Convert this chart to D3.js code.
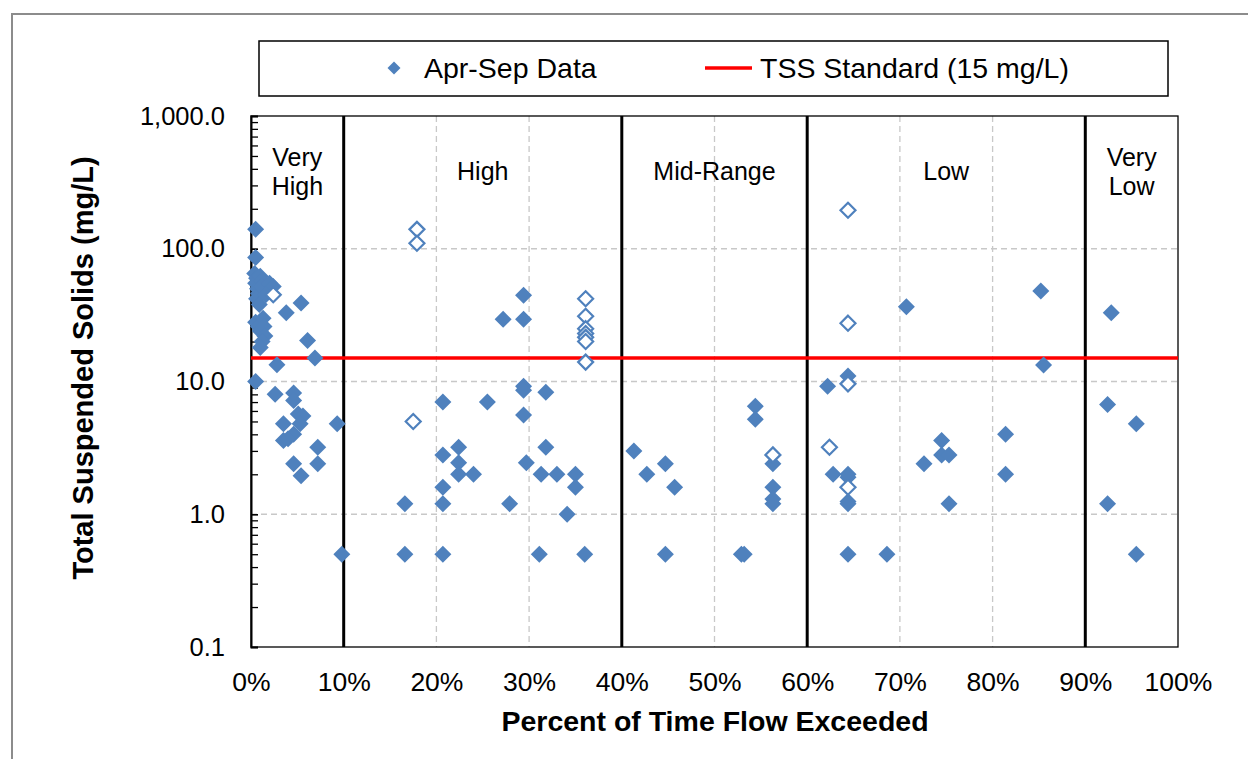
<!DOCTYPE html>
<html>
<head>
<meta charset="utf-8">
<script src="https://cdn.jsdelivr.net/npm/d3@7"></script>
<style>
  html, body { margin: 0; padding: 0; background: #fff; }
  svg { display: block; font-family: "Liberation Sans", Arial, sans-serif; }
</style>
</head>
<body>
<svg id="chart" width="1248" height="759"></svg>
<script>
// ---- Data ----
// Filled diamonds: "Apr-Sep Data"
const aprSepPct = [
  0.5, 0.5, 0.4, 0.6, 0.5, 0.7, 0.8, 0.6, 1.0, 1.2, 1.1, 0.9, 0.5, 0.8, 1.0, 1.3, 1.4, 1.5, 1.2, 1.0,
  2.0, 2.4, 1.6, 2.8, 3.8, 5.4, 6.1, 6.9, 0.5, 2.6, 4.6, 4.6, 5.1, 5.6, 3.5, 5.3, 4.6, 3.5, 4.0, 7.2,
  7.2, 4.6, 5.4, 9.3, 9.8,
  16.6, 16.6, 20.7, 20.7, 20.7, 20.7, 20.7, 22.4, 22.4, 22.4, 24.0, 25.5, 27.2, 27.9, 29.4, 29.4,
  29.4, 29.4, 29.4, 29.7, 31.1, 31.3, 31.8, 31.8, 33.0, 34.1, 35.0, 35.0, 36.0,
  41.3, 42.7, 44.7, 45.7, 44.7, 52.9, 53.2, 54.4, 54.4, 56.3, 56.3, 56.3, 56.3,
  62.2, 62.8, 64.4, 64.4, 64.4, 64.4, 64.4, 64.4, 68.6, 70.7, 72.6, 74.5, 74.5, 75.3, 75.3, 81.4,
  81.4, 85.2, 85.5,
  92.8, 92.4, 95.5, 92.4, 95.5
];
const aprSepTss = [
  140, 86, 65, 60, 55, 50, 46, 42, 62, 57, 52, 38, 28, 26, 24, 30, 26, 22, 20, 18,
  55, 52, 45, 13.4, 33, 39, 20.4, 15, 10, 8.0, 8.2, 7.2, 5.7, 5.5, 4.8, 4.8, 4.0, 3.6, 3.7, 3.2,
  2.4, 2.4, 1.95, 4.8, 0.5,
  1.2, 0.5, 7.0, 2.8, 1.6, 1.2, 0.5, 3.2, 2.44, 2.0, 2.0, 7.0, 29.4, 1.2, 44.7, 29.4,
  9.2, 8.6, 5.6, 2.44, 0.5, 2.0, 8.3, 3.2, 2.0, 1.0, 2.0, 1.6, 0.5,
  3.0, 2.0, 2.4, 1.6, 0.5, 0.5, 0.5, 6.5, 5.2, 2.4, 1.6, 1.3, 1.2,
  9.2, 2.0, 11, 2.0, 1.9, 1.25, 1.2, 0.5, 0.5, 36.5, 2.4, 3.6, 2.8, 2.8, 1.2, 4.0,
  2.0, 48, 13.3,
  33, 6.7, 4.8, 1.2, 0.5
];
// Hollow diamonds (not in legend)
const hollowPct = [2.4, 17.9, 17.9, 17.5, 36.1, 36.1, 36.1, 36.1, 36.1, 36.1, 36.1, 56.3, 64.4, 64.4, 64.4, 62.4, 64.4];
const hollowTss = [45, 140, 110, 5.0, 42, 31, 25, 23, 21.5, 20, 14, 2.8, 195, 27.5, 9.6, 3.2, 1.6];

const tssStandard = 15;
const yTickValues = [0.1, 1, 10, 100, 1000];
const xTickValues = [0, 10, 20, 30, 40, 50, 60, 70, 80, 90, 100];
const zoneBreaks = [10, 40, 60, 90];
const zoneLabels = [
  { name: ["Very", "High"], at: 5 },
  { name: ["High"], at: 25 },
  { name: ["Mid-Range"], at: 50 },
  { name: ["Low"], at: 75 },
  { name: ["Very", "Low"], at: 95 }
];
const legendLabels = ["Apr-Sep Data", "TSS Standard (15 mg/L)"];
const xTitle = "Percent of Time Flow Exceeded";
const yTitle = "Total Suspended Solids (mg/L)";

// ---- Layout ----
const svg = d3.select("#chart");
const L = 251, R = 1178, T = 116, B = 647;
const blue = "#4f81bd";

const x = d3.scaleLinear().domain([0, 100]).range([L, R]);
const y = d3.scaleLog().domain([0.1, 1000]).range([B, T]);

// outer chart border
svg.append("rect").attr("x", 12).attr("y", 14).attr("width", 1300).attr("height", 800)
  .attr("fill", "#fff").attr("stroke", "#8c8c8c").attr("stroke-width", 2);

// gridlines horizontal
svg.append("g").selectAll("line").data([1, 10, 100]).join("line")
  .attr("x1", L).attr("x2", R).attr("y1", d => y(d)).attr("y2", d => y(d))
  .attr("stroke", "#c8c8c8").attr("stroke-width", 1.3).attr("stroke-dasharray", "6,4");
// gridlines vertical
svg.append("g").selectAll("line").data(xTickValues.filter(d => d > 0 && d < 100 && !zoneBreaks.includes(d))).join("line")
  .attr("x1", d => x(d)).attr("x2", d => x(d)).attr("y1", T).attr("y2", B)
  .attr("stroke", "#c8c8c8").attr("stroke-width", 1.3).attr("stroke-dasharray", "6,4");

// plot border
svg.append("rect").attr("x", L).attr("y", T).attr("width", R - L).attr("height", B - T)
  .attr("fill", "none").attr("stroke", "#000").attr("stroke-width", 1.3);

// zone lines
svg.append("g").selectAll("line").data(zoneBreaks).join("line")
  .attr("x1", d => x(d)).attr("x2", d => x(d)).attr("y1", T).attr("y2", B)
  .attr("stroke", "#000").attr("stroke-width", 3);

// minor ticks (inside)
const minor = [];
[0.1, 1, 10, 100].forEach(dec => { for (let k = 1; k <= 10; k++) minor.push(dec * k); });
const minorAxis = svg.append("g").attr("transform", `translate(${L},0)`)
  .call(d3.axisRight(y).tickValues(minor).tickSize(7).tickFormat(""));
minorAxis.select(".domain").attr("stroke", "#000").attr("stroke-width", 2);
minorAxis.selectAll(".tick line").attr("stroke", "#000").attr("stroke-width", 1.3);

// y axis labels
const fmt = d3.format(",.1f");
const yAxis = svg.append("g").attr("transform", `translate(${L},0)`)
  .call(d3.axisLeft(y).tickValues(yTickValues).tickSize(0).tickPadding(26).tickFormat(d => fmt(d)));
yAxis.select(".domain").remove();
yAxis.selectAll("text").attr("font-size", 25.5).attr("fill", "#000")
  .attr("font-family", "Liberation Sans, Arial, sans-serif");

// x axis labels
const xAxis = svg.append("g").attr("transform", `translate(0,${B})`)
  .call(d3.axisBottom(x).tickValues(xTickValues).tickSize(0).tickPadding(25).tickFormat(d => d + "%"));
xAxis.select(".domain").remove();
xAxis.selectAll("text").attr("font-size", 26.5).attr("fill", "#000")
  .attr("font-family", "Liberation Sans, Arial, sans-serif");

// zone labels
zoneLabels.forEach(z => {
  const t = svg.append("text").attr("x", x(z.at)).attr("text-anchor", "middle")
    .attr("font-size", 25).attr("fill", "#000");
  const y0 = z.name.length === 2 ? 166 : 180;
  z.name.forEach((s, i) => t.append("tspan").attr("x", x(z.at)).attr("y", y0 + i * 29).text(s));
});

// TSS standard line
svg.append("line").attr("x1", L).attr("x2", R).attr("y1", y(tssStandard)).attr("y2", y(tssStandard))
  .attr("stroke", "#ff0000").attr("stroke-width", 3.5);

// diamonds
const diamond = (s) => `M0,${-s}L${s},0L0,${s}L${-s},0Z`;
const filled = aprSepPct.map((p, i) => ({ p, v: aprSepTss[i] }));
const hollow = hollowPct.map((p, i) => ({ p, v: hollowTss[i] }));
svg.append("g").selectAll("path").data(filled).join("path")
  .attr("d", diamond(8.5)).attr("transform", d => `translate(${x(d.p)},${y(d.v)})`)
  .attr("fill", blue);
svg.append("g").selectAll("path").data(hollow).join("path")
  .attr("d", diamond(7.5)).attr("transform", d => `translate(${x(d.p)},${y(d.v)})`)
  .attr("fill", "#fff").attr("stroke", blue).attr("stroke-width", 2.2);

// legend
svg.append("rect").attr("x", 259).attr("y", 41).attr("width", 909).attr("height", 55)
  .attr("fill", "#fff").attr("stroke", "#000").attr("stroke-width", 1.5);
svg.append("path").attr("d", diamond(6.5)).attr("transform", "translate(394,68)").attr("fill", blue);
svg.append("text").attr("x", 424).attr("y", 78).attr("font-size", 28.5).text(legendLabels[0]);
svg.append("line").attr("x1", 705).attr("x2", 752).attr("y1", 68).attr("y2", 68)
  .attr("stroke", "#ff0000").attr("stroke-width", 3.5);
svg.append("text").attr("x", 760).attr("y", 78).attr("font-size", 28.5).text(legendLabels[1]);

// axis titles
svg.append("text").attr("x", 715).attr("y", 731).attr("text-anchor", "middle")
  .attr("font-size", 28.5).attr("font-weight", "bold").text(xTitle);
svg.append("text").attr("transform", "translate(93,368) rotate(-90)").attr("text-anchor", "middle")
  .attr("font-size", 29).attr("font-weight", "bold").text(yTitle);
</script>
</body>
</html>
